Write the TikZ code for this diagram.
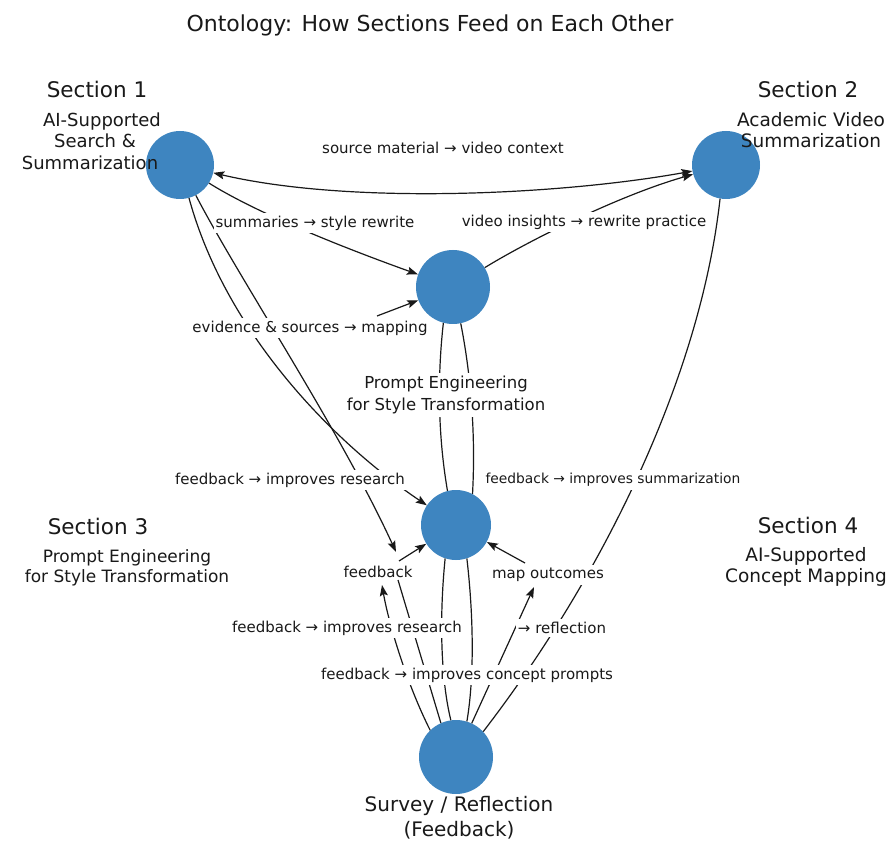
\documentclass[tikz,border=0pt]{standalone}
\usepackage{fontspec}
\setmainfont{DejaVu Sans}
\usetikzlibrary{arrows.meta}
\definecolor{nodeblue}{RGB}{62,133,192}
\definecolor{inkgray}{RGB}{25,25,25}
\begin{document}
\begin{tikzpicture}[x=1pt,y=-1pt,
  conc/.style={circle,fill=nodeblue,inner sep=0pt},
  link/.style={draw=inkgray,line width=1.2pt},
  arr/.style={link,-{Stealth[length=11pt,width=8pt,inset=2pt]}},
  dblarr/.style={link,{Stealth[length=11pt,width=8pt,inset=2pt]}-{Stealth[length=11pt,width=8pt,inset=2pt]}},
  elabel/.style={fill=white,inner xsep=1.5pt,inner ysep=3pt,text=inkgray,font=\fontsize{15}{17}\selectfont},
  sechead/.style={text=inkgray,font=\fontsize{21.5}{24}\selectfont},
  secsub/.style={text=inkgray,align=center,font=\fontsize{18.5}{21.5}\selectfont},
  nodelab/.style={fill=white,inner xsep=1pt,inner ysep=3pt,text=inkgray,align=center,font=\fontsize{16.5}{22}\selectfont},
  biglab/.style={text=inkgray,align=center,font=\fontsize{20}{25}\selectfont}
]
\useasboundingbox (0,0) rectangle (887,842);
\fill[white] (0,0) rectangle (887,842);

% concept nodes
\node[conc,minimum size=68pt] (s1) at (180,165) {};
\node[conc,minimum size=68pt] (s2) at (726,165) {};
\node[conc,minimum size=74pt] (pe) at (453,287) {};
\node[conc,minimum size=70pt] (cm) at (456,525) {};
\node[conc,minimum size=74pt] (fb) at (456,757) {};

% free ends
\coordinate (evs) at (377,316);
\coordinate (fbtop) at (396,552);
\coordinate (fbr) at (399,561);
\coordinate (fbbot) at (382,585);
\coordinate (fbbr) at (398,580);
\coordinate (mob) at (534,587);
\coordinate (mor) at (525,563);

% connectors
\draw[dblarr] (s1) .. controls (350,205) and (560,195) .. (s2);
\draw[arr] (s1) .. controls (260,215) and (350,250) .. (pe);
\draw[arr] (pe) .. controls (530,240) and (620,195) .. (s2);
\draw[arr] (evs) -- (pe);
\draw[arr] (s1) .. controls (225,330) and (330,440) .. (cm);
\draw[arr] (s1) .. controls (240,280) and (340,430) .. (fbtop);
\draw[arr] (fbr) -- (cm);
\draw[arr] (fb.134) .. controls (405,680) and (388,620) .. (fbbot);
\draw[link] (fb.114) -- (fbbr);
\draw[arr] (fb.65) -- (mob);
\draw[arr] (mor) -- (cm);
\draw[link] (pe.255) .. controls (438,370) and (437,430) .. (cm.104);
\draw[link] (pe.282) .. controls (470,370) and (476,430) .. (cm.62);
\draw[link] (cm.252) .. controls (439,620) and (441,680) .. (fb.98);
\draw[link] (cm.288) .. controls (474,620) and (474,680) .. (fb.73);
\draw[link] (s2.260) .. controls (700,380) and (600,580) .. (fb.43);

% edge labels
\node[elabel] (l1) at (443,148) {source material → video context};
\node[elabel] (l2) at (315,223) {summaries → style rewrite};
\node[elabel] (l3) at (584,222) {video insights → rewrite practice};
\node[elabel] (l4) at (310,328) {evidence \& sources → mapping};
\node[elabel] (l5) at (290,480) {feedback → improves research};
\node[elabel,font=\fontsize{13.8}{16}\selectfont] (l6) at (613,480) {feedback → improves summarization};
\node[elabel,inner ysep=1pt] (l7) at (378,572) {feedback};
\node[elabel] (l8) at (548,575) {map outcomes};
\node[elabel] (l9) at (347,628) {feedback → improves research};
\node[elabel] (l10) at (562,628) {→ reflection};
\node[elabel] (l11) at (467,675) {feedback → improves concept prompts};

% node captions
\node[nodelab] (pelab) at (446,395) {Prompt Engineering\\for Style Transformation};
\node[biglab] (fblab) at (459,818) {Survey / Reflection\\(Feedback)};

% section texts
\node[text=inkgray,font=\fontsize{22}{26}\selectfont] (title) at (430,25) {Ontology: How Sections Feed on Each Other};
\node[sechead] (sec1) at (97,89) {Section 1};
\node[secsub,font=\fontsize{18}{21.5}\selectfont] (sub1) at (95,141) {\hspace*{14pt}AI-Supported\\Search \&\\Summarization\hspace*{10pt}};
\node[sechead] (sec2) at (808,89) {Section 2};
\node[secsub] (sub2) at (811,130) {Academic Video\\Summarization};
\node[sechead] (sec3) at (98,526) {Section 3};
\node[secsub,font=\fontsize{17}{20.5}\selectfont] (sub3) at (127,568) {Prompt Engineering\\for Style Transformation};
\node[sechead] (sec4) at (808,525) {Section 4};
\node[secsub] (sub4) at (806,567) {AI-Supported\\Concept Mapping};
\end{tikzpicture}
\end{document}
